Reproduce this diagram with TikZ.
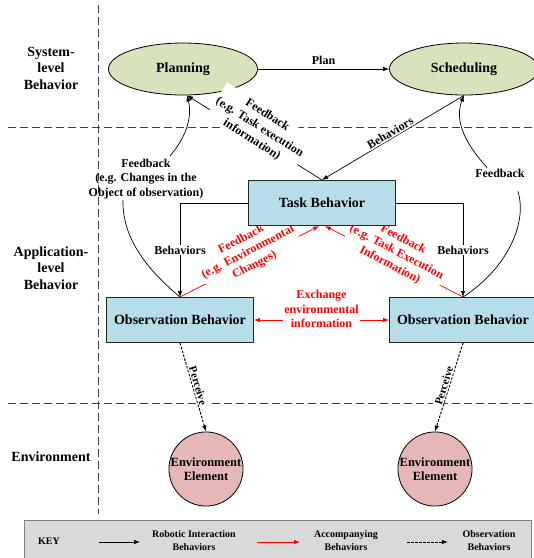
\documentclass[tikz,border=0pt]{standalone}
\usepackage{fontspec}
\setmainfont{Liberation Serif}
\usetikzlibrary{shapes.geometric,arrows.meta,calc}
\pgfdeclarelayer{background}
\pgfsetlayers{background,main}
\definecolor{planfill}{HTML}{D6E3BC}
\definecolor{boxfill}{HTML}{B7DDE8}
\definecolor{envfill}{HTML}{E5B8B7}
\definecolor{keyfill}{HTML}{D9D9D9}
\definecolor{sepgray}{HTML}{404040}

\begin{document}
\begin{tikzpicture}[x=1pt,y=-1pt,
  tip/.style={-{Latex[length=6pt,width=4.5pt]}},
  sysnode/.style={ellipse, draw=black, line width=0.8pt, fill=planfill,
    minimum width=149pt, minimum height=52pt, inner sep=0pt,
    font=\fontsize{14}{16}\selectfont\bfseries},
  appbox/.style={rectangle, draw=black!85, line width=1pt, fill=boxfill,
    minimum width=147pt, minimum height=45pt, inner sep=0pt,
    font=\fontsize{14}{16}\selectfont\bfseries},
  envnode/.style={circle, draw=black, line width=0.8pt, fill=envfill,
    minimum size=74pt, inner sep=0pt, align=center,
    font=\fontsize{12.5}{14.5}\selectfont\bfseries},
  layer/.style={align=center, font=\fontsize{14}{16.5}\selectfont\bfseries},
  lbl/.style={align=center, font=\fontsize{12}{14.5}\selectfont\bfseries, inner sep=1pt},
  wlbl/.style={lbl, fill=white},
  perc/.style={fill=white, inner sep=1pt, font=\fontsize{11}{13}\selectfont\bfseries},
  conn/.style={draw=black, line width=0.7pt},
  interact/.style={conn, tip},
  accomp/.style={draw=red, line width=0.7pt, tip},
  observe/.style={tip, draw=black, line width=1pt, dash pattern=on 2.5pt off 1.5pt},
  separator/.style={draw=sepgray, line width=1pt, dash pattern=on 8pt off 4pt},
  keytext/.style={align=center, font=\fontsize{10}{13}\selectfont\bfseries},
]
\useasboundingbox (0,0) rectangle (534,558);

% layer separators
\draw[separator] (98,5) -- (98,514);
\draw[separator] (8,127) -- (534,127);
\draw[separator] (8,403) -- (534,403);

% layer names
\node[layer] (lsys) at (51,68) {System-\\level\\Behavior};
\node[layer] (lapp) at (51,268) {Application-\\level\\Behavior};
\node[layer] (lenv) at (51,457) {Environment};

% behaviour nodes
\node[sysnode] (plan) at (183,69) {Planning};
\node[sysnode] (sched) at (464,69) {Scheduling};
\node[appbox] (task) at (322,203) {Task Behavior};
\node[appbox] (obsL) at (180,320) {Observation Behavior};
\node[appbox] (obsR) at (463,320) {Observation Behavior};
\node[envnode] (envL) at (206,469) {Environment\\Element};
\node[envnode] (envR) at (435,469) {Environment\\Element};

% system level
\draw[interact] (plan) -- (sched) node[midway, lbl, above=3pt] {Plan};

% feedback from observation to the system level
\node[lbl] (fbL) at (146,179) {Feedback\\(e.g. Changes in the\\Object of observation)};
\node[lbl] (fbR) at (500,173) {Feedback};
\draw[conn] (obsL.north) .. controls (150,272) and (122,240) .. ($(fbL.south)+(-23,0)$);
\draw[interact] ($(fbL.north)+(24,-2)$) .. controls (188,135) and (192,115) .. ($(plan.south)+(4,0)$);
\draw[interact] ($(fbR.north)+(-13,0)$) .. controls (462,140) and (455,118) .. (sched.south);
\draw[conn] ($(fbR.south)+(18,13)$) .. controls (528,225) and (505,270) .. (obsR.north);

% task behaviour to observation behaviours
\draw[interact] (task.west) -| (obsL.north) node[pos=0.75, wlbl] {Behaviors};
\draw[interact] (task.east) -| (obsR.north) node[pos=0.75, wlbl] {Behaviors};

% system level to task behaviour and back
\draw[interact] (sched.south) -- (task.north)
  node[midway, sloped, above, lbl, fill=white] {Behaviors};
\draw[interact] (task.north) -- ($(plan.south)+(4,0)$);
\node[wlbl, rotate=-32.5] (fbT) at ($(task.north)!0.5!(plan.south)+(7,-10)$)
  {Feedback\\(e.g. Task execution\\information)};

% accompanying behaviours, kept beneath the boxes
\begin{pgfonlayer}{background}
\draw[accomp] (obsL.north) -- ($(task.south)+(-3,0)$);
\node[wlbl, text=red, rotate=27.4] (fbEnv) at ($(obsL.north)!0.5!(task.south)+(-3,-9)$)
  {Feedback\\(e.g. Environmental\\Changes)};
\draw[accomp] (obsR.north) -- ($(task.south)+(3,0)$);
\node[wlbl, text=red, rotate=-27.6] (fbExe) at ($(obsR.north)!0.5!(task.south)+(4,-9)$)
  {Feedback\\(e.g. Task Execution\\Information)};
\end{pgfonlayer}
\draw[accomp, {Latex[length=6pt,width=4.5pt]}-{Latex[length=6pt,width=4.5pt]}] (obsL.east) -- (obsR.west)
  node[midway, yshift=11pt, wlbl, text=red] {Exchange\\environmental\\information};

% observation of the environment
\draw[observe] (obsL.south) -- (envL.north) node[midway, sloped, above, perc] {Perceive};
\draw[observe] (obsR.south) -- (envR.north) node[midway, sloped, above, perc] {Perceive};

% key
\draw[fill=keyfill, draw=gray, line width=0.8pt] (24,520) rectangle (531,559);
\node[keytext] (kkey) at (49,541) {KEY};
\coordinate (k1a) at (99,542); \coordinate (k1b) at (140,542);
\draw[interact] (k1a) -- (k1b);
\node[keytext] (k1t) at (194,541) {Robotic Interaction\\Behaviors};
\coordinate (k2a) at (257,542); \coordinate (k2b) at (300,542);
\draw[accomp] (k2a) -- (k2b);
\node[keytext] (k2t) at (346,541) {Accompanying\\Behaviors};
\coordinate (k3a) at (407,542); \coordinate (k3b) at (448,542);
\draw[observe] (k3a) -- (k3b);
\node[keytext] (k3t) at (489,541) {Observation\\Behaviors};
\end{tikzpicture}
\end{document}
